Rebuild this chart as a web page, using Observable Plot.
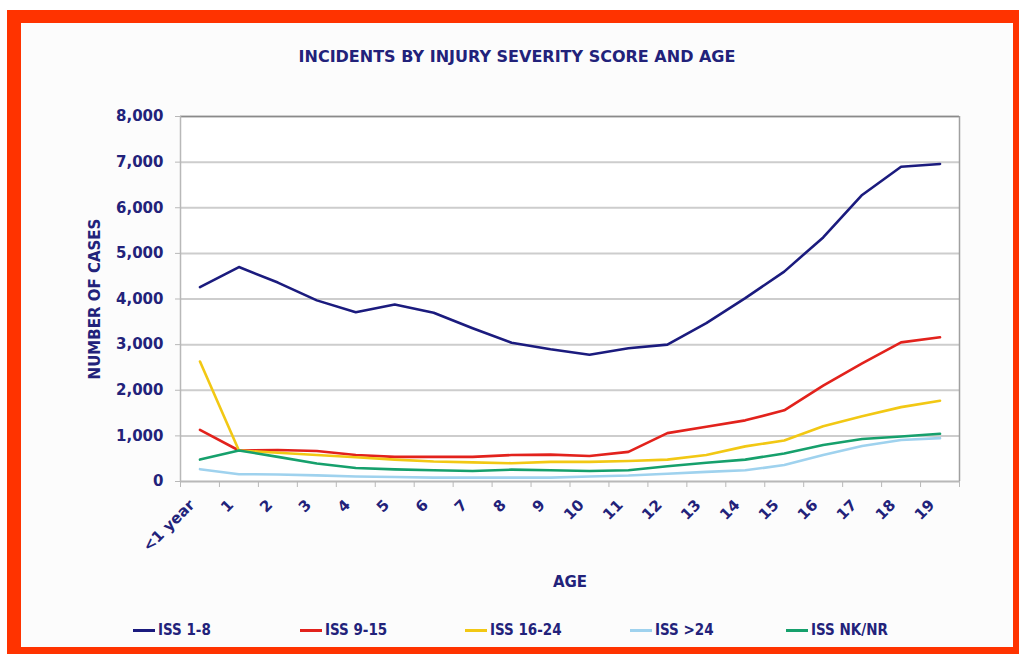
<!DOCTYPE html>
<html>
<head>
<meta charset="utf-8">
<script src="https://cdn.jsdelivr.net/npm/d3@7"></script>
<script src="https://cdn.jsdelivr.net/npm/@observablehq/plot@0.6"></script>
<style>
  html, body { margin: 0; padding: 0; background: #ffffff; }
  #page { position: relative; width: 1019px; height: 654px; overflow: hidden; background: #fcfcfc; }
  .frame { position: absolute; background: #ff3300; }
  #title { position: absolute; left: 0; top: 23px; width: 1034px; height: 68px; line-height: 68px; text-align: center;
    font-family: "DejaVu Sans", sans-serif; font-weight: bold; font-size: 16px; color: #22227a; }
  #chart { position: absolute; left: 0; top: 90px; }
  #legend { position: absolute; left: 0; top: 612px; width: 1019px; height: 36px; }
  .item { position: absolute; top: 0; height: 36px; display: flex; align-items: center;
    font-family: "DejaVu Sans Condensed", "DejaVu Sans", sans-serif; font-stretch: condensed; font-weight: bold; font-size: 15px; color: #22227a; }
  .sw { width: 22px; height: 3px; margin-right: 3px; }
</style>
</head>
<body>
<div id="page">
  <div id="title"></div>
  <div id="chart"></div>
  <div id="legend"></div>
  <div class="frame" style="left:0;top:0;width:1019px;height:10px;background:#fff"></div>
  <div class="frame" style="left:0;top:0;width:7px;height:654px;background:#fff"></div>
  <div class="frame" style="left:7px;top:10px;width:1012px;height:13px"></div>
  <div class="frame" style="left:7px;top:10px;width:14px;height:644px"></div>
  <div class="frame" style="left:1013px;top:10px;width:6px;height:644px"></div>
  <div class="frame" style="left:7px;top:647px;width:1012px;height:7px"></div>
</div>
<script>
const chartTitle = "INCIDENTS BY INJURY SEVERITY SCORE AND AGE";
const yTitle = "NUMBER OF CASES";
const xTitle = "AGE";
const ages = ["<1 year","1","2","3","4","5","6","7","8","9","10","11","12","13","14","15","16","17","18","19"];
const seriesNames = ["ISS 1-8","ISS 9-15","ISS 16-24","ISS >24","ISS NK/NR"];
const seriesColors = ["#1b1b7e","#e2221c","#f2c814","#9fd2ee","#16a06c"];
const iss1to8   = [4260,4700,4360,3970,3710,3880,3700,3360,3040,2900,2780,2920,3000,3470,4020,4600,5350,6280,6900,6960];
const iss9to15  = [1130,680,690,670,580,540,540,540,580,590,560,650,1060,1200,1340,1560,2100,2590,3050,3160];
const iss16to24 = [2630,680,630,580,530,480,440,420,400,430,430,450,480,580,770,900,1210,1430,1630,1770];
const issOver24 = [270,160,155,135,110,100,85,85,85,85,110,130,170,210,245,360,580,780,910,950];
const issNKNR   = [480,680,540,395,295,265,245,230,260,245,230,245,335,410,480,615,800,930,985,1045];
const yTicks = [0,1000,2000,3000,4000,5000,6000,7000,8000];

const seriesValues = [iss1to8, iss9to15, iss16to24, issOver24, issNKNR];
const data = [];
seriesNames.forEach((s, k) => seriesValues[k].forEach((v, i) => data.push({series: s, i, value: v})));

document.getElementById("title").textContent = chartTitle;

const navy = "#22227a";
const font = "DejaVu Sans, sans-serif";
const bandEdges = d3.range(ages.length + 1).map(i => i - 0.5);

const chart = Plot.plot({
  width: 1019,
  height: 515,
  marginLeft: 180,
  marginRight: 60,
  marginTop: 26,
  marginBottom: 124,
  style: {background: "transparent", fontFamily: font, color: navy},
  x: {type: "linear", domain: [-0.5, ages.length - 0.5]},
  y: {domain: [0, 8000]},
  color: {domain: seriesNames, range: seriesColors},
  marks: [
    Plot.frame({fill: "#ffffff", stroke: "none"}),
    Plot.gridY(yTicks, {stroke: "#cdcdcd", strokeOpacity: 1, strokeWidth: 2}),
    Plot.ruleY([8000], {stroke: "#8a8a8a", strokeWidth: 1.5}),
    Plot.ruleX([ages.length - 0.5], {stroke: "#a0a0a0", strokeWidth: 1.5}),
    Plot.ruleX([-0.5], {stroke: "#b8b8b8", strokeWidth: 1.5}),
    Plot.ruleY([0], {stroke: "#b8b8b8", strokeWidth: 1.5}),
    Plot.axisY({ticks: yTicks, tickFormat: d3.format(","), tickSize: 5, tickPadding: 12, stroke: "#b8b8b8",
      fill: navy, fontSize: 15, fontWeight: "bold", label: null}),
    Plot.axisX({ticks: bandEdges, tickFormat: () => "", tickSize: 6, stroke: "#b8b8b8", label: null}),
    Plot.axisX({ticks: d3.range(ages.length), tickFormat: i => ages[i], tickSize: 0, tickPadding: 21, tickRotate: -45,
      fill: navy, fontSize: 15, fontWeight: "bold", label: null, dx: -8}),
    Plot.text([yTitle], {frameAnchor: "left", rotate: -90, dx: -85, textAnchor: "middle", text: d => d,
      fontSize: 15, fontWeight: "bold", fill: navy}),
    Plot.text([xTitle], {frameAnchor: "bottom", dy: 105, textAnchor: "middle", text: d => d,
      fontSize: 15, fontWeight: "bold", fill: navy}),
    Plot.lineY(data, {x: "i", y: "value", stroke: "series", z: "series", strokeWidth: 2.6})
  ]
});
document.getElementById("chart").appendChild(chart);

const legendLeft = [133, 300, 465, 630, 786];
const legend = document.getElementById("legend");
seriesNames.forEach((s, k) => {
  const it = document.createElement("div");
  it.className = "item";
  it.style.left = legendLeft[k] + "px";
  const sw = document.createElement("span");
  sw.className = "sw";
  sw.style.background = seriesColors[k];
  it.appendChild(sw);
  it.appendChild(document.createTextNode(s));
  legend.appendChild(it);
});
</script>
</body>
</html>
